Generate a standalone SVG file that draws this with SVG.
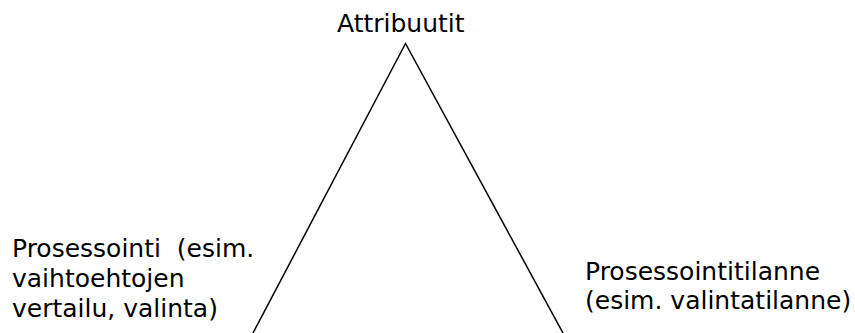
<svg xmlns="http://www.w3.org/2000/svg" width="855" height="333" viewBox="0 0 855 333">
<style>
text{font-family:"DejaVu Sans",Verdana,sans-serif;font-size:25px;fill:#000;white-space:pre}
.ln{stroke:#000;stroke-width:1.5;fill:none}
</style>
<rect width="855" height="333" fill="#fff"/>
<g id="connectors">
<path class="ln" d="M252.5,334 L405.5,43.5 L563.5,334"/>
</g>
<g id="attribuutit">
<text x="337" y="32">Attribuutit</text>
</g>
<g id="prosessointi">
<text x="12" y="257" xml:space="preserve">Prosessointi  (esim.</text>
<text x="12" y="287">vaihtoehtojen</text>
<text x="12" y="317">vertailu, valinta)</text>
</g>
<g id="prosessointitilanne">
<text x="585" y="280">Prosessointitilanne</text>
<text x="585" y="309">(esim. valintatilanne)</text>
</g>
</svg>
